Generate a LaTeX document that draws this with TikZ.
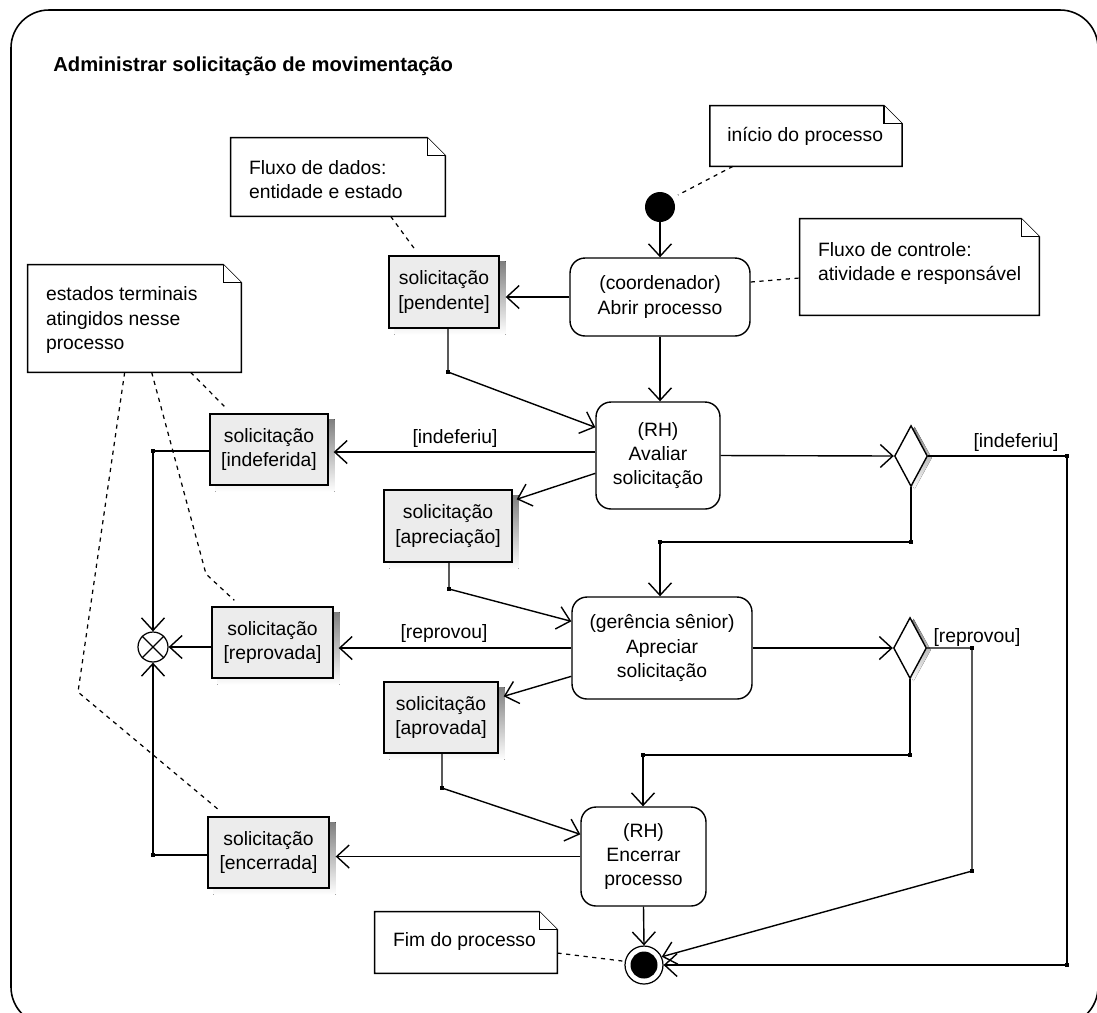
\documentclass[tikz,border=0pt]{standalone}
\usepackage{fontspec}
\setmainfont{Liberation Sans}
\usetikzlibrary{arrows.meta,calc,shapes.geometric}

\definecolor{objfill}{RGB}{236,236,236}
\definecolor{shade}{RGB}{168,168,168}

\pgfdeclarelayer{shadowlayer}
\pgfdeclarelayer{filllayer}
\pgfsetlayers{shadowlayer,filllayer,main}

% note outline with a folded top-right corner, drawn around an empty node
\newcommand\foldnote[1]{%
  \draw[notebox] (#1.north west) -- ($(#1.north east)+(-18,0)$) -- ($(#1.north east)+(0,18)$)
    -- (#1.south east) -- (#1.south west) -- cycle;
  \draw[notebox] ($(#1.north east)+(-18,0)$) |- ($(#1.north east)+(0,18)$);}

% grey shadow and light fill behind an object node
\newcommand\boxback[1]{%
  \begin{pgfonlayer}{shadowlayer}
    \fill[shade] ($(#1.south west)+(6,6)$) rectangle ($(#1.north east)+(6,6)$);
  \end{pgfonlayer}
  \begin{pgfonlayer}{filllayer}
    \fill[objfill] (#1.south west) rectangle (#1.north east);
  \end{pgfonlayer}}

\begin{document}
\begin{tikzpicture}[x=0.02cm, y=-0.02cm,
  font=\fontsize{11}{13.7}\selectfont,
  activity/.style={draw, line width=0.8pt, rounded corners=0.3cm, align=center,
    inner sep=0pt, fill=white},
  objnode/.style={draw, line width=0.8pt, align=center, inner sep=0pt},
  decision/.style={diamond, draw, line width=0.8pt, fill=white, inner sep=0pt,
    minimum width=0.66cm, minimum height=1.22cm},
  startnode/.style={circle, fill=black, minimum size=0.6cm, inner sep=0pt},
  mergenode/.style={circle, draw, line width=0.7pt, fill=white, minimum size=0.6cm, inner sep=0pt},
  finalnode/.style={circle, draw, line width=0.7pt, fill=white, minimum size=0.76cm, inner sep=0pt},
  junction/.style={rectangle, fill=black, minimum size=0.09cm, inner sep=0pt},
  notebody/.style={inner sep=0pt},
  notebox/.style={line width=0.8pt, fill=white},
  notetext/.style={align=left, inner sep=0pt, anchor=west},
  lbl/.style={inner sep=0pt},
  arr/.style={line width=0.8pt, -{Straight Barb[length=0.25cm, width=0.46cm]}},
  dashline/.style={line width=0.7pt, dash pattern=on 2.4pt off 2.6pt}]

\useasboundingbox (0,0) rectangle (1097,1012);

% outer frame of the activity
\begin{scope}
  \clip (0,0) rectangle (1097,1012);
  \draw[line width=0.9pt, rounded corners=0.76cm] (11,10) rectangle (1098,1025);
\end{scope}

\node[anchor=base west, inner sep=0pt, font=\fontsize{11.5}{14}\selectfont\bfseries] (title)
  at (53,71) {Administrar solicitação de movimentação};

% notes
\node[notebody, minimum width=3.83cm, minimum height=1.2cm] (ninit) at (806,136) {};
\node[notebody, minimum width=4.28cm, minimum height=1.56cm] (ndata) at (338,177) {};
\node[notebody, minimum width=4.78cm, minimum height=1.92cm] (nctrl) at (919.5,267) {};
\node[notebody, minimum width=4.26cm, minimum height=2.14cm] (nterm) at (134.5,318.5) {};
\node[notebody, minimum width=3.64cm, minimum height=1.22cm] (nfim) at (466,942.5) {};
\foldnote{ninit}
\foldnote{ndata}
\foldnote{nctrl}
\foldnote{nterm}
\foldnote{nfim}
\node[notetext] (ninit-t) at ($(ninit.west)+(17,0)$) {início do processo};
\node[notetext] (ndata-t) at ($(ndata.west)+(18,3)$) {Fluxo de dados:\\entidade e estado};
\node[notetext] (nctrl-t) at ($(nctrl.west)+(18,-3.5)$) {Fluxo de controle:\\atividade e responsável};
\node[notetext] (nterm-t) at ($(nterm.west)+(18,1.5)$) {estados terminais\\atingidos nesse\\processo};
\node[notetext] (nfim-t) at ($(nfim.west)+(18,-1)$) {Fim do processo};

% control nodes
\node[startnode] (start) at (660,207) {};
\node[decision] (dec1) at (911,456) {};
\node[decision] (dec2) at (910,648) {};
\node[mergenode] (merge) at (153,647) {};
\draw[line width=0.7pt] (merge.45) -- (merge.225) (merge.135) -- (merge.315);
\node[finalnode] (final) at (644,965) {};
\fill (final.center) circle (0.27cm);

% activities
\node[activity, minimum width=3.6cm, minimum height=1.56cm] (abrir) at (660,297)
  {(coordenador)\\Abrir processo};
\node[activity, minimum width=2.48cm, minimum height=2.14cm] (avaliar) at (658,455.5)
  {(RH)\\Avaliar\\solicitação};
\node[activity, minimum width=3.6cm, minimum height=2.04cm] (apreciar) at (662,648)
  {(gerência sênior)\\Apreciar\\solicitação};
\node[activity, minimum width=2.5cm, minimum height=1.98cm] (encerrar) at (643.5,856.5)
  {(RH)\\Encerrar\\processo};

% object states
\node[objnode, minimum width=2.2cm, minimum height=1.44cm] (pendente) at (444,292)
  {solicitação\\{[pendente]}};
\node[objnode, minimum width=2.36cm, minimum height=1.42cm] (indeferida) at (269,449.5)
  {solicitação\\{[indeferida]}};
\node[objnode, minimum width=2.56cm, minimum height=1.44cm] (apreciacao) at (448,526)
  {solicitação\\{[apreciação]}};
\node[objnode, minimum width=2.42cm, minimum height=1.42cm] (reprovada) at (272.5,642.5)
  {solicitação\\{[reprovada]}};
\node[objnode, minimum width=2.28cm, minimum height=1.42cm] (aprovada) at (441,717.5)
  {solicitação\\{[aprovada]}};
\node[objnode, minimum width=2.42cm, minimum height=1.42cm] (encerrada) at (268.5,852.5)
  {solicitação\\{[encerrada]}};

\boxback{pendente}
\boxback{indeferida}
\boxback{apreciacao}
\boxback{reprovada}
\boxback{aprovada}
\boxback{encerrada}

% shadows of the decisions
\begin{pgfonlayer}{shadowlayer}
  \fill[shade] ($(dec1.north)+(3.5,2)$) -- ($(dec1.east)+(3.5,2)$) -- ($(dec1.south)+(3.5,2)$) -- ($(dec1.west)+(3.5,2)$) -- cycle;
  \fill[shade] ($(dec2.north)+(3.5,2)$) -- ($(dec2.east)+(3.5,2)$) -- ($(dec2.south)+(3.5,2)$) -- ($(dec2.west)+(3.5,2)$) -- cycle;
\end{pgfonlayer}

% junction points
\node[junction] (j1) at (448,372) {};
\node[junction] (j2) at (449,589) {};
\node[junction] (j3) at (442,788) {};
\node[junction] (j4) at (153,451) {};
\node[junction] (j5) at (153,855) {};
\node[junction] (j6) at (1067,456) {};
\node[junction] (j7) at (1067,965) {};
\node[junction] (j8) at (911,542) {};
\node[junction] (j9) at (660,542) {};
\node[junction] (j10) at (972,648) {};
\node[junction] (j11) at (972,871) {};
\node[junction] (j12) at (910,755) {};
\node[junction] (j13) at (643,755) {};

% control and object flows
\draw[arr] (start) -- (abrir);
\draw[arr] (abrir.west) -- ($(pendente.east |- abrir.west)+(6,0)$);
\draw[arr] (abrir.south) -- (abrir.south |- avaliar.north);
\draw[arr] (pendente.south -| j1.center) -- (j1.center) -- ($(avaliar.north west)+(0,26)$);
\draw[arr] ($(avaliar.west)+(0,-3.5)$) -- ($(indeferida.east |- avaliar.west)+(5,-3.5)$);
\draw[arr] (avaliar.east) -- (dec1.west);
\draw[arr] ($(avaliar.north west)+(0,72)$) -- ($(apreciacao.north east)+(4,10)$);
\draw[arr] (apreciacao.south -| j2.center) -- (j2.center) -- ($(apreciar.north west)+(0,25)$);
\draw[arr] (dec1.south) -- (j8.center) -- (j9.center) -- (j9.center |- apreciar.north);
\draw[arr] (dec1.east) -- (j6.center) -- (j7.center) -- (final.east);
\draw[arr] (apreciar.west) -- ($(reprovada.east |- apreciar.west)+(5,0)$);
\draw[arr] (apreciar.east) -- (dec2.west);
\draw[arr] ($(apreciar.north west)+(0,80)$) -- ($(aprovada.north east)+(5,15)$);
\draw[arr] (aprovada.south -| j3.center) -- (j3.center) -- ($(encerrar.north west)+(0,28)$);
\draw[arr] (dec2.south) -- (j12.center) -- (j13.center) -- (j13.center |- encerrar.north);
\draw[arr] (dec2.east) -- (j10.center) -- (j11.center) -- (final.25);
\draw[arr] (encerrar.west) -- ($(encerrada.east |- encerrar.west)+(6,0)$);
\draw[arr] (encerrar.south) -- (final.north);
\draw[arr] (indeferida.west |- j4.center) -- (j4.center) -- (merge.north);
\draw[arr] (reprovada.west |- merge.center) -- (merge.east);
\draw[arr] (encerrada.west |- j5.center) -- (j5.center) -- (merge.south);

% guard labels
\node[lbl] (g1) at (455,438) {[indeferiu]};
\node[lbl] (g2) at (1016,442) {[indeferiu]};
\node[lbl] (g3) at (444,633) {[reprovou]};
\node[lbl] (g4) at (977,637) {[reprovou]};

% note anchors
\coordinate (k1) at (78,692);
\coordinate (k2) at (206,574);
\draw[dashline] ($(ninit.south west)+(23,0)$) -- ($(start.center)+(18,-12)$);
\draw[dashline] ($(abrir.east)+(0,-15)$) -- ($(nctrl.west)+(0,11)$);
\draw[dashline] ($(ndata.south west)+(160,0)$) -- ($(pendente.north west)+(28,-4)$);
\draw[dashline] ($(nterm.south west)+(97,0)$) -- (k1) -- ($(encerrada.north west)+(12,-6)$);
\draw[dashline] ($(nterm.south west)+(124,0)$) -- (k2) -- ($(reprovada.north west)+(23,-6)$);
\draw[dashline] ($(nterm.south west)+(163,0)$) -- ($(indeferida.north west)+(15,-7)$);
\draw[dashline] ($(nfim.east)+(0,10.5)$) -- ($(final.west)+(-2,-4)$);

\end{tikzpicture}
\end{document}
